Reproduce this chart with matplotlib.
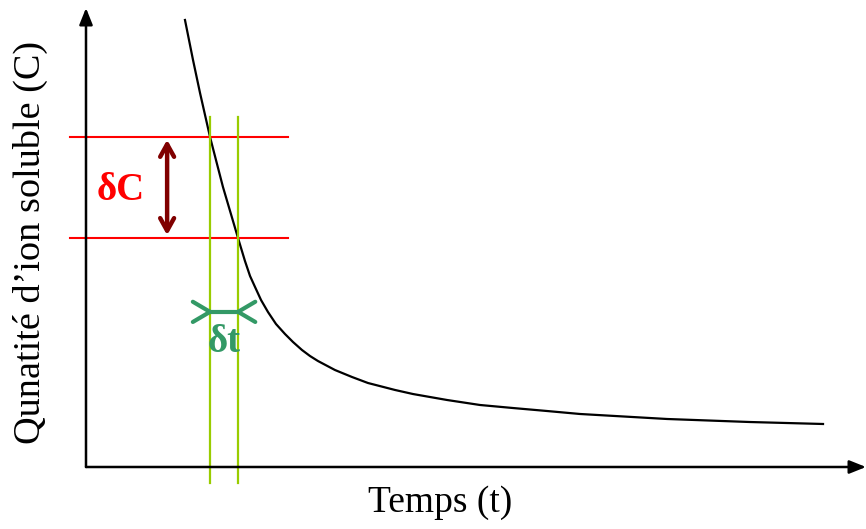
import matplotlib.pyplot as plt

plt.rcParams['font.family'] = ['Liberation Serif', 'DejaVu Serif']

# Courbe (t, C) en unités arbitraires
t_courbe = [1.269, 1.372, 1.462, 1.590, 1.756, 1.949, 2.038, 2.103, 2.167, 2.244,
            2.333, 2.436, 2.551, 2.654, 2.769, 2.872, 2.974, 3.192, 3.410, 3.615,
            3.962, 4.192, 4.628, 5.051, 5.474, 5.910, 6.333, 7.449, 8.513, 9.449]
c_courbe = [9.739, 8.867, 8.148, 7.190, 6.100, 4.989, 4.488, 4.161, 3.922, 3.638,
            3.377, 3.115, 2.898, 2.723, 2.549, 2.418, 2.309, 2.113, 1.961, 1.830,
            1.678, 1.590, 1.460, 1.351, 1.285, 1.220, 1.155, 1.046, 0.980, 0.937]

# niveaux et instants pour dC / dt
c_niveaux = [7.19, 4.99]
t_instants = [1.59, 1.95]

fig = plt.figure(figsize=(8.66, 5.29), dpi=100)
ax = fig.add_axes([86/866, 62/529, 780/866, 459/529])
ax.set_xlim(0, 10)
ax.set_ylim(0, 10)
ax.axis('off')

# axes avec flèches
fleche = dict(arrowstyle='-|>,head_length=1.0,head_width=0.4', color='black', lw=1.8,
              shrinkA=0, shrinkB=0)
ax.annotate('', xy=(10, 0), xytext=(0, 0), arrowprops=fleche, annotation_clip=False)
ax.annotate('', xy=(0, 10), xytext=(0, 0), arrowprops=fleche, annotation_clip=False)

ax.plot(t_courbe, c_courbe, color='black', lw=1.6, clip_on=False,
        solid_joinstyle='round')

for c in c_niveaux:
    ax.plot([-0.21, 2.59], [c, c], color='#ff0000', lw=1.5, clip_on=False)
for t in t_instants:
    ax.plot([t, t], [7.63, -0.35], color='#99cc00', lw=1.6, clip_on=False)

# double flèche dC
ax.annotate('', xy=(1.04, c_niveaux[0] - 0.06), xytext=(1.04, c_niveaux[1] + 0.06),
            arrowprops=dict(arrowstyle='<->,head_length=0.9,head_width=0.5', color='#800000', lw=3.2,
                            shrinkA=0, shrinkB=0))
ax.text(0.45, 6.03, 'δC', color='#ff0000', fontsize=28, fontweight='bold',
        ha='center', va='center')

# dt
vert = '#339966'
yb = 3.38
ax.plot([t_instants[0], t_instants[1]], [yb, yb], color=vert, lw=3, solid_capstyle='butt')
ax.plot([t_instants[0] - 0.22, t_instants[0], t_instants[0] - 0.22], [yb + 0.22, yb, yb - 0.22],
        color=vert, lw=3, solid_capstyle='round')
ax.plot([t_instants[1] + 0.22, t_instants[1], t_instants[1] + 0.22], [yb + 0.22, yb, yb - 0.22],
        color=vert, lw=3, solid_capstyle='round')
ax.text(1.77, 2.72, 'δt', color=vert, fontsize=28, fontweight='bold',
        ha='center', va='center')

fig.text(440/866, 1 - 503/529, 'Temps (t)', fontsize=27, ha='center', va='center')
fig.text(30/866, 1 - 243/529, 'Qunatité d’ion soluble (C)', fontsize=27.5,
         rotation=90, ha='center', va='center')

fig.savefig('out.png', dpi=100)
